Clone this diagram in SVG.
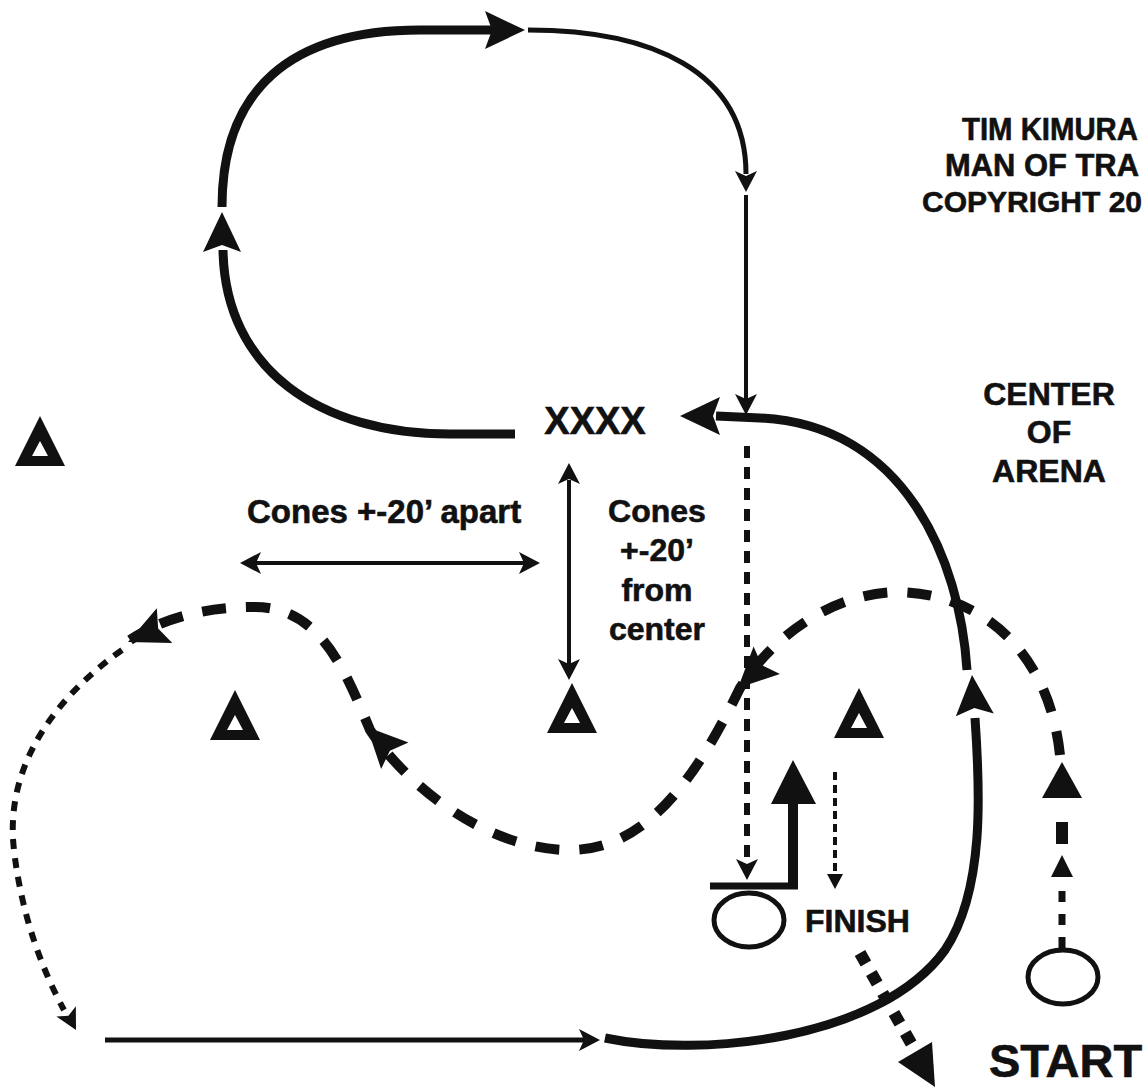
<svg xmlns="http://www.w3.org/2000/svg" xmlns:xlink="http://www.w3.org/1999/xlink" width="1148" height="1088" viewBox="0 0 1148 1088">
<style>
.t{font-family:"Liberation Sans",Arial,sans-serif;font-weight:bold;fill:#111;stroke:#111;stroke-width:0.6;}
.thick{fill:none;stroke:#111;stroke-width:9;}
.mid{fill:none;stroke:#111;stroke-width:5;}
.thin{fill:none;stroke:#111;stroke-width:4;}
.dashT{fill:none;stroke:#111;stroke-width:10;stroke-dasharray:24 20;}
.dotL{fill:none;stroke:#111;stroke-width:6;stroke-dasharray:10 9;}
.dotV{fill:none;stroke:#111;stroke-width:6;stroke-dasharray:12 9;}
.ring{fill:none;stroke:#111;stroke-width:5;}
.hd{fill:#111;}
</style>
<defs>
<path id="ah" d="M0,0 L-40,-19 L-33,0 L-40,19 Z"/>
<path id="ahs" d="M0,0 L-21,-11 L-16,0 L-21,11 Z"/>
<path id="cone" d="M-25,0 L25,0 L0,-50 Z M-8,-10 L8,-10 L0,-25 Z" fill-rule="evenodd"/>
</defs>
<rect width="1148" height="1088" fill="#fff"/>

<g id="connectors">
  <!-- top loop -->
  <path class="thick" d="M515 434 L450 434 C320 434 225 370 223 250"/>
  <use href="#ah" class="hd" transform="translate(222,212) rotate(-90)"/>
  <path class="thick" d="M222 207 C222 90 290 30 420 30 L492 30"/>
  <use href="#ah" class="hd" transform="translate(525,30)"/>
  <path class="mid" d="M528 30 C650 30 746 70 746 174"/>
  <use href="#ahs" class="hd" transform="translate(746,192) rotate(90)"/>
  <path class="thin" d="M746 195 L746 400"/>
  <use href="#ahs" class="hd" transform="translate(746,415) rotate(90)"/>
  <!-- curve to XXXX -->
  <path class="thick" d="M967 670 C960 560 905 425 760 418 L716 416"/>
  <use href="#ah" class="hd" transform="translate(680,416) rotate(180)"/>
  <!-- lower sweeping curve -->
  <path class="thick" d="M605 1038 C700 1058 880 1040 945 950 C985 890 980 790 975 718"/>
  <use href="#ah" class="hd" transform="translate(972,675) rotate(-94)"/>
  <!-- bottom straight -->
  <path class="mid" d="M105 1040 L585 1040"/>
  <use href="#ahs" class="hd" transform="translate(600,1040)"/>
  <!-- left dotted -->
  <path class="dotL" d="M122 650 C45 705 5 775 14 850 C22 920 45 975 64 1010"/>
  <use href="#ahs" class="hd" transform="translate(76,1030) rotate(62)"/>
  <!-- thick dashed S curve -->
  <path class="dashT" d="M1060 755 C1050 660 990 595 900 592 C830 592 770 640 740 688 C700 770 650 850 570 850 C490 850 410 790 370 730 C345 670 320 607 255 607 C200 607 160 620 130 640"/>
  <use href="#ah" class="hd" transform="translate(738,688) rotate(136)"/>
  <use href="#ah" class="hd" transform="translate(367,727) rotate(-134)"/>
  <use href="#ah" class="hd" transform="translate(128,642) rotate(156)"/>
  <!-- start dashed up -->
  <path fill="none" stroke="#111" stroke-width="7" stroke-dasharray="11 12" d="M1062 948 L1062 880"/>
  <path class="hd" d="M1062 855 L1073 877 L1051 877 Z"/>
  <rect class="hd" x="1056" y="822" width="12" height="22"/>
  <path class="hd" d="M1062 762 L1082 798 L1042 798 Z"/>
  <!-- vertical dashed to finish -->
  <path class="dotV" d="M747 446 L747 862"/>
  <use href="#ahs" class="hd" transform="translate(747,880) rotate(90)"/>
  <!-- finish bar and up arrow -->
  <path fill="none" stroke="#111" stroke-width="7" d="M710 886 L798 886"/>
  <rect class="hd" x="788" y="800" width="10" height="89"/>
  <path class="hd" d="M793 760 L816 804 L771 804 Z"/>
  <!-- small dotted down -->
  <path fill="none" stroke="#111" stroke-width="4" stroke-dasharray="8 5" d="M835 772 L835 875"/>
  <path class="hd" d="M835 889 L843 874 L827 874 Z"/>
  <!-- square dotted exit -->
  <path fill="none" stroke="#111" stroke-width="12" stroke-dasharray="12 11" d="M860 953 L916 1052"/>
  <path class="hd" d="M935 1087 L932 1042 L898 1062 Z"/>
  <!-- measurement arrows -->
  <path class="thin" d="M256 563 L524 563"/>
  <use href="#ahs" class="hd" transform="translate(240,563) rotate(180)"/>
  <use href="#ahs" class="hd" transform="translate(540,563)"/>
  <path class="thin" d="M569 480 L569 664"/>
  <use href="#ahs" class="hd" transform="translate(569,463) rotate(-90)"/>
  <use href="#ahs" class="hd" transform="translate(569,680) rotate(90)"/>
</g>

<g id="cone-far-left"><use href="#cone" class="hd" transform="translate(40,466)"/></g>
<g id="cone-left"><use href="#cone" class="hd" transform="translate(235,740)"/></g>
<g id="cone-center"><use href="#cone" class="hd" transform="translate(572,733)"/></g>
<g id="cone-right"><use href="#cone" class="hd" transform="translate(859,738)"/></g>

<g id="finish"><ellipse class="ring" cx="749" cy="920" rx="35" ry="27"/><text class="t" x="805" y="932" font-size="32">FINISH</text></g>
<g id="start"><ellipse class="ring" cx="1063" cy="977" rx="35" ry="27"/><text class="t" x="989" y="1077" font-size="47">START</text></g>
<g id="xxxx"><text class="t" x="595" y="434" font-size="38" text-anchor="middle">XXXX</text></g>
<g id="center-label"><text class="t" font-size="32" text-anchor="middle"><tspan x="1049" y="405">CENTER</tspan><tspan x="1049" y="443">OF</tspan><tspan x="1049" y="482">ARENA</tspan></text></g>
<g id="credit">
  <text class="t" x="962" y="140" font-size="31" textLength="176" lengthAdjust="spacingAndGlyphs">TIM KIMURA</text>
  <text class="t" x="945" y="176" font-size="31" textLength="194" lengthAdjust="spacingAndGlyphs">MAN OF TRA</text>
  <text class="t" x="922" y="212" font-size="30">COPYRIGHT 20</text>
</g>
<g id="apart-label"><text class="t" x="247" y="523" font-size="33">Cones +-20’ apart</text></g>
<g id="from-center-label"><text class="t" font-size="32" text-anchor="middle"><tspan x="657" y="522">Cones</tspan><tspan x="657" y="561">+-20’</tspan><tspan x="657" y="601">from</tspan><tspan x="657" y="640">center</tspan></text></g>
</svg>
